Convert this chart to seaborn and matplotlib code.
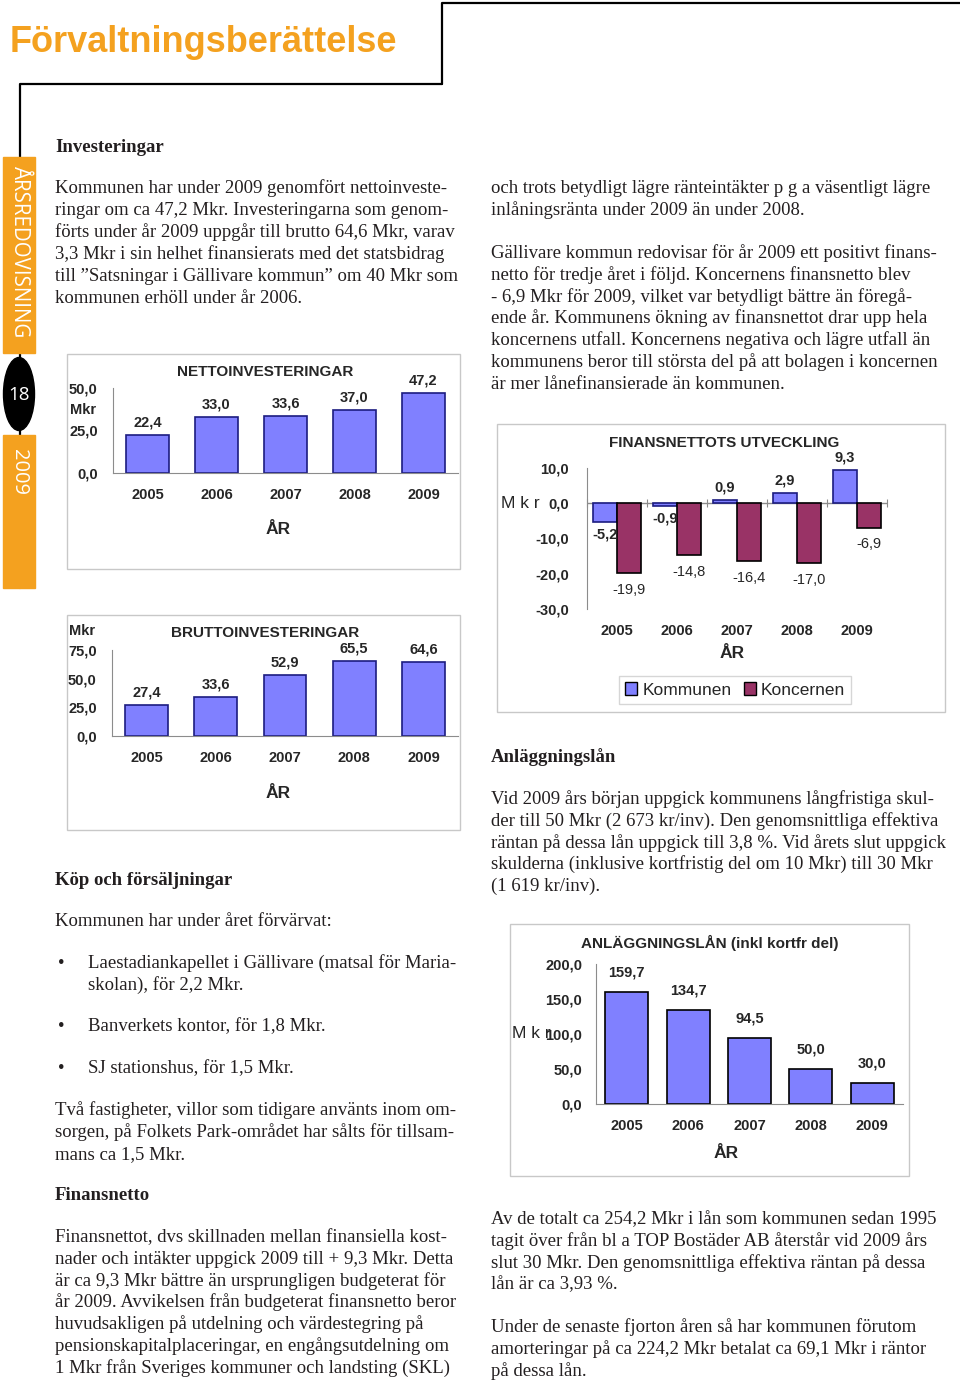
import matplotlib.pyplot as plt
import matplotlib.patches as mpatches
import seaborn as sns
import numpy as np
import pandas as pd

W, H = 960, 1383

# chart data
years = ['2005', '2006', '2007', '2008', '2009']
netto = [22.4, 33.0, 33.6, 37.0, 47.2]
brutto = [27.4, 33.6, 52.9, 65.5, 64.6]
fin_kommun = [-5.2, -0.9, 0.9, 2.9, 9.3]
fin_koncern = [-19.9, -14.8, -16.4, -17.0, -6.9]
lan = [159.7, 134.7, 94.5, 50.0, 30.0]

netto_ticks = [0, 25, 50]
brutto_ticks = [0, 25, 50, 75]
fin_ticks = [-30, -20, -10, 0, 10]
lan_ticks = [0, 50, 100, 150, 200]

# page text
p_invest = [
    "Kommunen har under 2009 genomfört nettoinveste-",
    "ringar om ca 47,2 Mkr. Investeringarna som genom-",
    "förts under år 2009 uppgår till brutto 64,6 Mkr, varav",
    "3,3 Mkr i sin helhet finansierats med det statsbidrag",
    "till ”Satsningar i Gällivare kommun” om 40 Mkr som",
    "kommunen erhöll under år 2006.",
]
p_tva = [
    "Två fastigheter, villor som tidigare använts inom om-",
    "sorgen, på Folkets Park-området har sålts för tillsam-",
    "mans ca 1,5 Mkr.",
]
p_finans = [
    "Finansnettot, dvs skillnaden mellan finansiella kost-",
    "nader och intäkter uppgick 2009 till + 9,3 Mkr. Detta",
    "är ca 9,3 Mkr bättre än ursprungligen budgeterat för",
    "år 2009. Avvikelsen från budgeterat finansnetto beror",
    "huvudsakligen på utdelning och värdestegring på",
    "pensionskapitalplaceringar, en engångsutdelning om",
    "1 Mkr från Sveriges kommuner och landsting (SKL)",
]
p_trots = [
    "och trots betydligt lägre ränteintäkter p g a väsentligt lägre",
    "inlåningsränta under 2009 än under 2008.",
]
p_gallivare = [
    "Gällivare kommun redovisar för år 2009 ett positivt finans-",
    "netto för tredje året i följd. Koncernens finansnetto blev",
    "- 6,9 Mkr för 2009, vilket var betydligt bättre än föregå-",
    "ende år. Kommunens ökning av finansnettot drar upp hela",
    "koncernens utfall. Koncernens negativa och lägre utfall än",
    "kommunens beror till största del på att bolagen i koncernen",
    "är mer lånefinansierade än kommunen.",
]
p_lan = [
    "Vid 2009 års början uppgick kommunens långfristiga skul-",
    "der till 50 Mkr (2 673 kr/inv). Den genomsnittliga effektiva",
    "räntan på dessa lån uppgick till 3,8 %. Vid årets slut uppgick",
    "skulderna (inklusive kortfristig del om 10 Mkr) till 30 Mkr",
    "(1 619 kr/inv).",
]
p_totalt = [
    "Av de totalt ca 254,2 Mkr i lån som kommunen sedan 1995",
    "tagit över från bl a TOP Bostäder AB återstår vid 2009 års",
    "slut 30 Mkr. Den genomsnittliga effektiva räntan på dessa",
    "lån är ca 3,93 %.",
]
p_fjorton = [
    "Under de senaste fjorton åren så har kommunen förutom",
    "amorteringar på ca 224,2 Mkr betalat ca 69,1 Mkr i räntor",
    "på dessa lån.",
]
bullets = [
    ["Laestadiankapellet i Gällivare (matsal för Maria-", "skolan), för 2,2 Mkr."],
    ["Banverkets kontor, för 1,8 Mkr."],
    ["SJ stationshus, för 1,5 Mkr."],
]

ORANGE = '#F4A11F'
BLUE = '#8080FF'
BLUE_EDGE = '#1c1c80'
MAROON = '#993366'
GRAY = '#8c8c8c'
INK = '#231f20'
SERIF = 'Liberation Serif'
BODY = 13.5

sns.set_style('white')
plt.rcParams['font.family'] = ['Liberation Sans', 'DejaVu Sans']


def rect(x0, y0, x1, y1):
    return [x0 / W, 1 - y1 / H, (x1 - x0) / W, (y1 - y0) / H]


def fmt(v):
    return f'{v:.1f}'.replace('.', ',')


def para(ax, lines, x, y, step=21.8):
    for i, line in enumerate(lines):
        ax.text(x, y + 6 + i * step, line, fontsize=BODY, family=SERIF,
                color=INK, va='baseline')


def heading(ax, s, x, y):
    ax.text(x, y + 6, s, fontsize=BODY, family=SERIF, fontweight='bold',
            color=INK, va='baseline')


def style_axis(ax, ticks, minor=None, ypad=7):
    ax.set_facecolor('none')
    sns.despine(ax=ax)
    for s in ['left', 'bottom']:
        ax.spines[s].set_color(GRAY)
    ax.set_ylim(ticks[0], ticks[-1])
    ax.set_yticks(ticks)
    ax.set_yticklabels([fmt(t) for t in ticks])
    ax.set_xlim(-0.5, 4.5)
    ax.set_xlabel('')
    ax.set_ylabel('')
    ax.tick_params(axis='y', length=4, color=GRAY, pad=ypad, labelsize=10.5)
    ax.tick_params(axis='x', length=0, pad=11, labelsize=10.5)
    if minor is not None:
        ax.set_yticks(minor, minor=True)
        ax.tick_params(axis='y', which='minor', length=3, color=GRAY)
    ax.set_xticks(np.arange(-0.5, 5, 1), minor=True)
    ax.tick_params(axis='x', which='minor', direction='inout', length=6,
                   color=GRAY)
    for lab in ax.get_xticklabels() + ax.get_yticklabels():
        lab.set_fontweight('bold')


fig = plt.figure(figsize=(W / 100, H / 100), dpi=100)
bg = fig.add_axes([0, 0, 1, 1])
bg.set_xlim(0, W)
bg.set_ylim(H, 0)
bg.axis('off')

# page frame and title
bg.plot([442, 442, 960], [84, 3, 3], color='black', lw=1.6)
bg.plot([442, 20, 20], [84, 84, 588], color='black', lw=1.6)
bg.text(10, 52, 'Förvaltningsberättelse', color=ORANGE, fontsize=26,
        fontweight='bold', va='baseline')

# side bar
bg.add_patch(mpatches.Rectangle((3, 157), 32, 196, color=ORANGE, zorder=3))
bg.add_patch(mpatches.Rectangle((3, 435), 32, 153, color=ORANGE, zorder=3))
bg.add_patch(mpatches.Ellipse((19, 394), 31, 73, color='black', zorder=3))
bg.text(19, 252, 'ÅRSREDOVISNING', rotation=-90, color='white', fontsize=14.8,
        family='Open Sans', ha='center', va='center', zorder=4)
bg.text(19, 472, '2009', rotation=-90, color='white', fontsize=14.5,
        family='Open Sans', ha='center', va='center', zorder=4)
bg.text(19, 395, '18', color='white', fontsize=13.5, family='Open Sans',
        ha='center', va='center', zorder=4)

# left column
heading(bg, 'Investeringar', 55, 146)
para(bg, p_invest, 55, 187, 22)
heading(bg, 'Köp och försäljningar', 55, 879)
para(bg, ['Kommunen har under året förvärvat:'], 55, 920)
for by, item in zip([962, 1025, 1067], bullets):
    bg.text(58, by + 6, '•', fontsize=BODY, family=SERIF, color=INK,
            va='baseline')
    para(bg, item, 88, by)
para(bg, p_tva, 55, 1109)
heading(bg, 'Finansnetto', 55, 1194)
para(bg, p_finans, 55, 1236)

# right column
para(bg, p_trots, 491, 187)
para(bg, p_gallivare, 491, 252)
heading(bg, 'Anläggningslån', 491, 756)
para(bg, p_lan, 491, 798)
para(bg, p_totalt, 491, 1218)
para(bg, p_fjorton, 491, 1326)

# chart frames
for x0, y0, x1, y1 in [(67, 354, 460, 569), (67, 615, 460, 830),
                       (497, 424, 945, 712), (510, 924, 909, 1176)]:
    bg.add_patch(mpatches.Rectangle((x0, y0), x1 - x0, y1 - y0, fill=False,
                                    ec='#c8c8c8', lw=1))

# NETTOINVESTERINGAR
ax1 = fig.add_axes(rect(113, 388, 458, 473))
sns.barplot(x=years, y=netto, ax=ax1, color=BLUE, saturation=1, width=0.62,
            edgecolor=BLUE_EDGE, linewidth=1.2)
style_axis(ax1, netto_ticks, minor=np.arange(0, 51, 5))
ax1.bar_label(ax1.containers[0], labels=[fmt(v) for v in netto], padding=4,
              fontsize=10.5, fontweight='bold')
bg.text(265, 372, 'NETTOINVESTERINGAR', fontsize=11, fontweight='bold',
        ha='center', va='center')
bg.text(70, 410, 'Mkr', fontsize=10.5, fontweight='bold', va='center')
bg.text(278, 530, 'ÅR', fontsize=12.5, fontweight='bold', ha='center',
        va='center')

# BRUTTOINVESTERINGAR
ax2 = fig.add_axes(rect(112, 650, 458, 736))
sns.barplot(x=years, y=brutto, ax=ax2, color=BLUE, saturation=1, width=0.62,
            edgecolor=BLUE_EDGE, linewidth=1.2)
style_axis(ax2, brutto_ticks, minor=np.arange(0, 76, 5))
ax2.bar_label(ax2.containers[0], labels=[fmt(v) for v in brutto], padding=4,
              fontsize=10.5, fontweight='bold')
bg.text(265, 633, 'BRUTTOINVESTERINGAR', fontsize=11, fontweight='bold',
        ha='center', va='center')
bg.text(69, 631, 'Mkr', fontsize=10.5, fontweight='bold', va='center')
bg.text(278, 793, 'ÅR', fontsize=12.5, fontweight='bold', ha='center',
        va='center')

# FINANSNETTOTS UTVECKLING
fin = pd.DataFrame({
    'year': years * 2,
    'value': fin_kommun + fin_koncern,
    'serie': ['Kommunen'] * 5 + ['Koncernen'] * 5,
})
ax3 = fig.add_axes(rect(587, 468, 887, 609))
sns.barplot(data=fin, x='year', y='value', hue='serie', ax=ax3,
            palette=[BLUE, MAROON], saturation=1, width=0.8, linewidth=1.2,
            legend=False)
style_axis(ax3, fin_ticks, ypad=9)
ax3.spines['bottom'].set_visible(False)
ax3.tick_params(axis='x', which='minor', length=0)
ax3.axhline(0, color=GRAY, lw=1, zorder=0)
zero = ax3.secondary_xaxis(0.75)
zero.set_xticks(np.arange(-0.5, 5, 1))
zero.set_xticklabels([])
zero.tick_params(direction='inout', length=6, color=GRAY)
for s in zero.spines.values():
    s.set_visible(False)
for p in ax3.containers[0]:
    p.set_edgecolor(BLUE_EDGE)
for p in ax3.containers[1]:
    p.set_edgecolor('black')
ax3.bar_label(ax3.containers[0], labels=[fmt(v) for v in fin_kommun],
              padding=4, fontsize=10.5, fontweight='bold')
ax3.bar_label(ax3.containers[1], labels=[fmt(v) for v in fin_koncern],
              padding=7, fontsize=10.5)
bg.text(724, 443, 'FINANSNETTOTS UTVECKLING', fontsize=11, fontweight='bold',
        ha='center', va='center')
bg.text(501, 503, 'M k r', fontsize=12.5, va='center')
bg.text(732, 653, 'ÅR', fontsize=12.5, fontweight='bold', ha='center',
        va='center')
fig.legend(handles=[mpatches.Patch(fc=BLUE, ec='black', label='Kommunen'),
                    mpatches.Patch(fc=MAROON, ec='black', label='Koncernen')],
           loc='center', bbox_to_anchor=(735 / W, 1 - 690 / H), ncol=2,
           frameon=True, fancybox=False, edgecolor='#cccccc', fontsize=12.5,
           handlelength=0.7, handleheight=0.7, handletextpad=0.3,
           columnspacing=0.7, borderpad=0.35)

# ANLÄGGNINGSLÅN
ax4 = fig.add_axes(rect(596, 964, 903, 1104))
sns.barplot(x=years, y=lan, ax=ax4, color=BLUE, saturation=1, width=0.7,
            edgecolor='black', linewidth=1.2)
style_axis(ax4, lan_ticks, ypad=6)
ax4.bar_label(ax4.containers[0], labels=[fmt(v) for v in lan], padding=9,
              fontsize=10.5, fontweight='bold')
bg.text(710, 943, 'ANLÄGGNINGSLÅN (inkl kortfr del)', fontsize=11,
        fontweight='bold', ha='center', va='center')
# the reference lets this label run into the 100,0 tick
bg.text(512, 1033, 'M k r', fontsize=12.5, va='center')
bg.text(726, 1153, 'ÅR', fontsize=12.5, fontweight='bold', ha='center',
        va='center')

fig.savefig('out.png', dpi=100)
